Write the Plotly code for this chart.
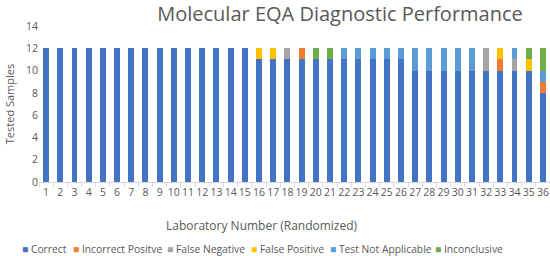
import plotly.graph_objects as go

labs = [str(i) for i in range(1, 37)]
correct =            [12]*15 + [11, 11, 11, 11, 11, 11] + [11]*5 + [10]*5 + [10, 10, 10, 10, 8]
incorrect_positive = [0]*15 + [0, 0, 0, 1, 0, 0] + [0]*5 + [0]*5 + [0, 1, 0, 0, 1]
false_negative =     [0]*15 + [0, 0, 1, 0, 0, 0] + [0]*5 + [0]*5 + [2, 0, 1, 0, 0]
false_positive =     [0]*15 + [1, 1, 0, 0, 0, 0] + [0]*5 + [0]*5 + [0, 1, 0, 1, 0]
test_not_applicable =[0]*15 + [0, 0, 0, 0, 0, 0] + [1]*5 + [2]*5 + [0, 0, 1, 0, 1]
inconclusive =       [0]*15 + [0, 0, 0, 0, 1, 1] + [0]*5 + [0]*5 + [0, 0, 0, 1, 2]

series_names = ["Correct", "Incorrect Positve", "False Negative", "False Positive",
                "Test Not Applicable", "Inconclusive"]
series_values = [correct, incorrect_positive, false_negative, false_positive,
                 test_not_applicable, inconclusive]
series_colors = ["#4472C4", "#ED7D31", "#A5A5A5", "#FFC000", "#5B9BD5", "#70AD47"]

W, H = 550, 256
L, R, T, B = 39, 0, 26, 74
pw = W - L - R
ph = H - T - B

fig = go.Figure()
for name, vals, col in zip(series_names, series_values, series_colors):
    fig.add_trace(go.Bar(x=labs, y=vals, name=name, marker_color=col,
                         marker_line_width=0))

grey = "#595959"
font_family = "Open Sans, sans-serif"

# legend built from annotations (single row like the reference)
legend_px = [20, 71, 165, 249, 328, 433]
annotations = []
for name, col, px in zip(series_names, series_colors, legend_px):
    annotations.append(dict(
        text=f"<span style='color:{col}'>■</span> {name}",
        xref="paper", yref="paper",
        x=(px - L) / pw, y=(H - B - 249) / ph,
        xanchor="left", yanchor="middle", showarrow=False,
        font=dict(size=10.3, color=grey, family=font_family)))
annotations.append(dict(
    text="Laboratory Number (Randomized)", xref="paper", yref="paper",
    x=(262 - L) / pw, y=(H - B - 226) / ph, xanchor="center", yanchor="middle",
    showarrow=False, font=dict(size=12, color=grey, family=font_family)))

fig.update_layout(
    barmode="stack",
    bargap=0.58,
    width=W, height=H,
    margin=dict(l=L, r=R, t=T, b=B, autoexpand=False),
    paper_bgcolor="white", plot_bgcolor="white",
    font=dict(family=font_family, color=grey, size=11),
    title=dict(text="Molecular EQA Diagnostic Performance", x=340 / W, xanchor="center",
               y=1 - 14 / H, yanchor="middle", xref="container", yref="container",
               font=dict(size=20, color=grey)),
    showlegend=False,
    annotations=annotations,
    xaxis=dict(showline=True, linecolor="#D9D9D9", ticks="outside", tickcolor="#D9D9D9",
               ticklen=4, tickfont=dict(size=10.5), tickangle=0, tickson="boundaries",
               range=[-0.5, 35.5]),
    yaxis=dict(title=dict(text="Tested Samples", font=dict(size=11, color=grey), standoff=9),
               range=[0, 14], dtick=2, showgrid=False, zeroline=False,
               tickfont=dict(size=10.5)),
)
fig.write_html("out.html", config={"displayModeBar": False},
               post_script="document.body.style.margin='0';document.body.style.padding='0';")
